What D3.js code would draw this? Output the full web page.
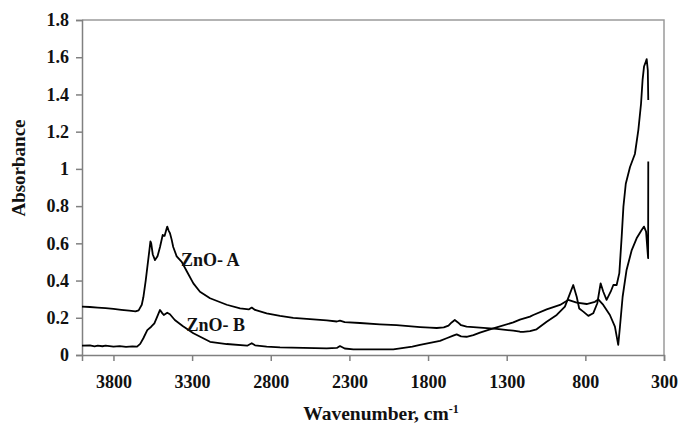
<!DOCTYPE html>
<html>
<head>
<meta charset="utf-8">
<script src="https://cdn.jsdelivr.net/npm/d3@7/dist/d3.min.js"></script>
<style>
  html, body { margin: 0; padding: 0; background: #fff; }
  svg { display: block; }
  text { font-family: "Liberation Serif", "Times New Roman", serif; font-weight: bold; fill: #111; }
</style>
</head>
<body>
<svg id="chart" width="681" height="426"></svg>
<script>
// FTIR spectra of two ZnO samples (wavenumber in cm-1, absorbance)
const wavenumberA = [4000, 3950, 3900, 3850, 3800, 3750, 3700, 3660, 3640, 3620, 3610, 3595, 3585, 3572, 3565, 3560, 3550, 3536, 3520, 3504, 3487, 3475, 3465, 3458, 3450, 3441, 3430, 3420, 3398, 3366, 3334, 3292, 3250, 3186, 3080, 2995, 2940, 2921, 2900, 2826, 2741, 2657, 2444, 2380, 2360, 2330, 2233, 2106, 2000, 1850, 1788, 1745, 1700, 1670, 1650, 1630, 1610, 1590, 1555, 1470, 1364, 1258, 1216, 1195, 1152, 1110, 1046, 982, 930, 898, 877, 855, 839, 813, 781, 750, 724, 703, 686, 665, 639, 622, 601, 584, 569, 558, 543, 516, 485, 463, 446, 436, 427, 416, 410, 403, 400];
const absorbanceA = [0.26, 0.258, 0.255, 0.252, 0.248, 0.243, 0.238, 0.234, 0.24, 0.27, 0.31, 0.40, 0.47, 0.56, 0.61, 0.60, 0.54, 0.51, 0.53, 0.58, 0.645, 0.64, 0.67, 0.69, 0.67, 0.655, 0.62, 0.58, 0.53, 0.50, 0.45, 0.385, 0.34, 0.305, 0.27, 0.25, 0.245, 0.255, 0.242, 0.224, 0.21, 0.20, 0.186, 0.18, 0.185, 0.177, 0.172, 0.165, 0.16, 0.15, 0.147, 0.145, 0.148, 0.158, 0.175, 0.188, 0.175, 0.16, 0.152, 0.147, 0.14, 0.131, 0.125, 0.124, 0.128, 0.138, 0.179, 0.215, 0.26, 0.33, 0.376, 0.313, 0.25, 0.233, 0.21, 0.224, 0.278, 0.385, 0.34, 0.296, 0.34, 0.376, 0.376, 0.44, 0.636, 0.797, 0.92, 1.01, 1.08, 1.21, 1.35, 1.48, 1.55, 1.575, 1.59, 1.53, 1.37];

const wavenumberB = [4000, 3950, 3920, 3900, 3870, 3850, 3800, 3760, 3720, 3680, 3650, 3630, 3610, 3585, 3560, 3540, 3525, 3504, 3490, 3480, 3458, 3441, 3410, 3360, 3292, 3186, 3080, 2950, 2921, 2900, 2826, 2741, 2444, 2380, 2360, 2330, 2275, 2021, 1900, 1851, 1724, 1682, 1640, 1618, 1590, 1555, 1512, 1470, 1406, 1364, 1258, 1216, 1152, 1131, 1046, 961, 909, 855, 792, 739, 718, 686, 644, 612, 591, 580, 563, 538, 505, 474, 442, 427, 414, 401, 400];
const absorbanceB = [0.05, 0.052, 0.046, 0.05, 0.047, 0.05, 0.045, 0.048, 0.044, 0.046, 0.045, 0.06, 0.09, 0.134, 0.152, 0.17, 0.20, 0.242, 0.225, 0.215, 0.227, 0.219, 0.188, 0.156, 0.117, 0.071, 0.059, 0.05, 0.063, 0.052, 0.045, 0.041, 0.036, 0.038, 0.048, 0.035, 0.03, 0.03, 0.045, 0.054, 0.076, 0.09, 0.104, 0.111, 0.1, 0.098, 0.107, 0.12, 0.138, 0.149, 0.175, 0.19, 0.206, 0.215, 0.245, 0.269, 0.296, 0.281, 0.274, 0.286, 0.299, 0.269, 0.215, 0.152, 0.054, 0.152, 0.313, 0.457, 0.564, 0.627, 0.672, 0.69, 0.663, 0.52, 1.04];

const xTicks = [3800, 3300, 2800, 2300, 1800, 1300, 800, 300];
const yTicks = [0, 0.2, 0.4, 0.6, 0.8, 1, 1.2, 1.4, 1.6, 1.8];
const seriesLabels = ["ZnO- A", "ZnO- B"];

const svg = d3.select("#chart");
const plot = { left: 82, right: 664, top: 20, bottom: 355 };

const x = d3.scaleLinear().domain([4000, 300]).range([plot.left, plot.right]);
const y = d3.scaleLinear().domain([0, 1.8]).range([plot.bottom, plot.top]);

const axisColor = "#808080";

// plot-area frame (top and right edges)
svg.append("path")
  .attr("d", `M${plot.left},${plot.top}H${plot.right}V${plot.bottom}`)
  .attr("fill", "none").attr("stroke", "#9a9a9a").attr("stroke-width", 1.5);

// y axis
const yAxis = svg.append("g")
  .attr("transform", `translate(${plot.left},0)`)
  .call(d3.axisLeft(y).tickValues(yTicks).tickSize(6).tickPadding(7).tickFormat(d3.format("~g")));
// x axis
const xAxis = svg.append("g")
  .attr("transform", `translate(0,${plot.bottom})`)
  .call(d3.axisBottom(x).tickValues(xTicks).tickSize(6).tickPadding(14).tickFormat(d3.format("d")));

[yAxis, xAxis].forEach(g => {
  g.select(".domain").attr("stroke", axisColor).attr("stroke-width", 1.5);
  g.selectAll(".tick line").attr("stroke", axisColor).attr("stroke-width", 1.5);
  g.selectAll(".tick text")
    .attr("font-family", "Liberation Serif, Times New Roman, serif")
    .attr("font-weight", "bold").attr("font-size", 18).attr("fill", "#111");
});

// spectra
const line = d3.line().x(d => x(d[0])).y(d => y(d[1]));
const seriesA = wavenumberA.map((w, i) => [w, absorbanceA[i]]);
const seriesB = wavenumberB.map((w, i) => [w, absorbanceB[i]]);

[seriesA, seriesB].forEach(s => {
  svg.append("path").datum(s)
    .attr("d", line)
    .attr("fill", "none").attr("stroke", "#000")
    .attr("stroke-width", 1.8).attr("stroke-linejoin", "round");
});

// series labels
svg.append("text").attr("x", x(3370)).attr("y", y(0.48)).attr("font-size", 18).text(seriesLabels[0]);
svg.append("text").attr("x", x(3335)).attr("y", y(0.128)).attr("font-size", 18).text(seriesLabels[1]);

// axis titles
svg.append("text")
  .attr("transform", `translate(25,168) rotate(-90)`)
  .attr("text-anchor", "middle").attr("font-size", 19)
  .text("Absorbance");

const xt = svg.append("text")
  .attr("x", 381).attr("y", 420)
  .attr("text-anchor", "middle").attr("font-size", 19.5);
xt.append("tspan").text("Wavenumber, cm");
xt.append("tspan").attr("font-size", 12).attr("dy", -7).text("-1");
</script>
</body>
</html>
